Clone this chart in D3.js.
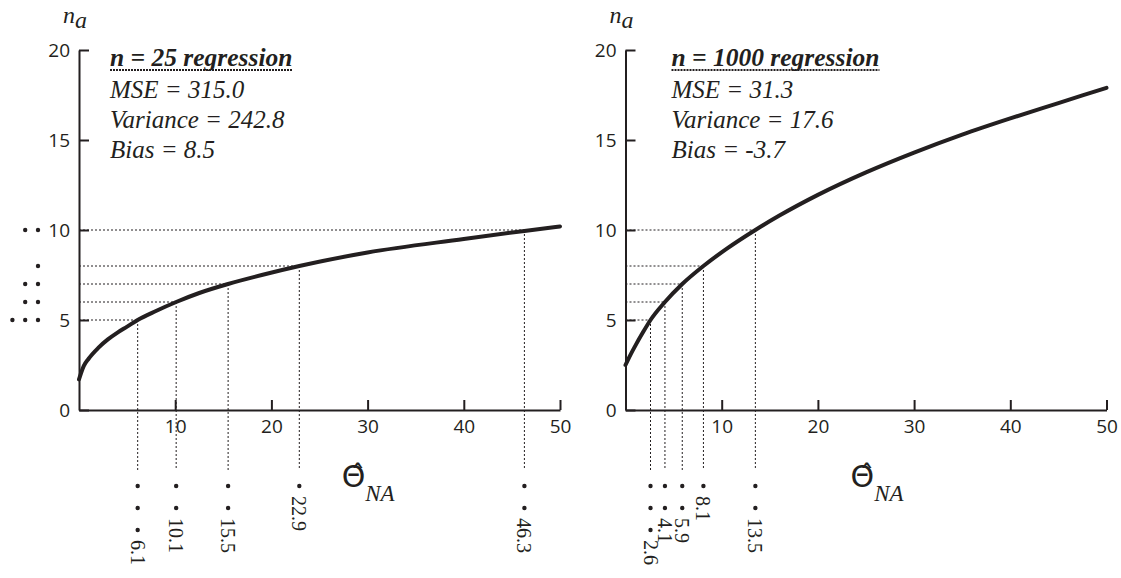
<!DOCTYPE html>
<html>
<head>
<meta charset="utf-8">
<script src="https://cdn.jsdelivr.net/npm/d3@7"></script>
<style>
  body { margin: 0; background: #fff; }
  svg { display: block; }
</style>
</head>
<body>
<div id="chart"></div>
<script>
// ticks shared by both panels
var xTicks = [10, 20, 30, 40, 50];
var yTicks = [0, 5, 10, 15, 20];

// n = 25 regression curve
var curve25 = [[0, 1.7], [0.5, 2.45], [1, 2.85], [2, 3.45], [3, 3.92], [4, 4.3], [5, 4.63],
  [6.1, 5], [8, 5.5], [10.1, 6], [12.5, 6.5], [15.5, 7], [19, 7.5], [22.9, 8],
  [30, 8.75], [40, 9.5], [46.3, 9.95], [50, 10.2]];
var levels25 = [5, 6, 7, 8, 10];
var est25 = [6.1, 10.1, 15.5, 22.9, 46.3];
var counts25 = [3, 2, 2, 1, 2];
var stats25 = ["MSE = 315.0", "Variance = 242.8", "Bias = 8.5"];

// n = 1000 regression curve
var curve1000 = [[0, 2.5], [0.5, 3.05], [1, 3.55], [1.8, 4.3], [2.6, 5], [4.1, 6], [5.9, 7],
  [8.1, 8], [10.5, 8.95], [13.5, 10], [16, 10.8], [20, 11.95], [25, 13.2], [30, 14.3],
  [35, 15.3], [40, 16.2], [45, 17.05], [50, 17.9]];
var levels1000 = [5, 6, 7, 8, 10];
var est1000 = [2.6, 4.1, 5.9, 8.1, 13.5];
var counts1000 = [3, 2, 2, 1, 2];
var stats1000 = ["MSE = 31.3", "Variance = 17.6", "Bias = -3.7"];

var ink = "#231f20";
var serif = "'Liberation Serif'";
// the italic face of Liberation Serif comes out sans-like here, so try Nimbus first
var serifItalic = "'Nimbus Roman', 'Liberation Serif', serif";
var sans = "'Open Sans'";

var svg = d3.select("#chart").append("svg")
  .attr("width", 1121)
  .attr("height", 578);

function drawPanel(p) {
  var x = d3.scaleLinear().domain([0, 50]).range([p.left, p.left + 481]);
  var y = d3.scaleLinear().domain([0, 20]).range([410, 50]);
  var g = svg.append("g");

  // dotted guide lines
  p.levels.forEach(function(lv, i) {
    var ex = p.est[i];
    g.append("line")
      .attr("x1", x(0)).attr("x2", x(ex))
      .attr("y1", y(lv)).attr("y2", y(lv))
      .attr("stroke", ink).attr("stroke-width", 1)
      .attr("stroke-dasharray", "2,2");
    g.append("line")
      .attr("x1", x(ex)).attr("x2", x(ex))
      .attr("y1", y(lv)).attr("y2", 470)
      .attr("stroke", ink).attr("stroke-width", 1)
      .attr("stroke-dasharray", "2,2");

    // dots under the x axis, one per estimate
    var n = p.counts[i];
    for (var k = 0; k < n; k++) {
      g.append("circle")
        .attr("cx", x(ex)).attr("cy", 486 + k * 22)
        .attr("r", 2.2).attr("fill", ink);
    }
    g.append("text")
      .attr("transform", "translate(" + x(ex) + "," + (486 + (n - 1) * 22 + 10) + ") rotate(90)")
      .attr("dominant-baseline", "central")
      .style("font-family", serif)
      .style("font-size", "20px")
      .attr("fill", ink)
      .text(d3.format(".1f")(ex));

    // dots left of the y axis
    if (p.yDots) {
      for (var j = 0; j < n; j++) {
        g.append("circle")
          .attr("cx", 38 - j * 12.8).attr("cy", y(lv))
          .attr("r", 2.2).attr("fill", ink);
      }
    }
  });

  // axes
  var xAxis = d3.axisTop(x).tickValues(xTicks).tickSizeInner(10).tickSizeOuter(0).tickPadding(0);
  var xg = g.append("g").attr("transform", "translate(0,410)").call(xAxis);
  xg.select(".domain").attr("stroke", ink).attr("stroke-width", 2);
  xg.selectAll(".tick line").attr("stroke", ink).attr("stroke-width", 2);
  xg.selectAll(".tick text")
    .attr("y", 23).attr("dy", 0)
    .style("font-family", sans).style("font-size", "19px").attr("fill", ink);

  var yAxis = d3.axisRight(y).tickValues(yTicks).tickSizeInner(10).tickSizeOuter(0);
  var yg = g.append("g").attr("transform", "translate(" + p.left + ",0)").call(yAxis);
  yg.select(".domain").attr("stroke", ink).attr("stroke-width", 2);
  yg.selectAll(".tick line").attr("stroke", ink).attr("stroke-width", 2);
  yg.selectAll(".tick text")
    .attr("x", -9).attr("text-anchor", "end").attr("dy", "0.34em")
    .style("font-family", sans).style("font-size", "19px").attr("fill", ink);

  // regression curve
  var line = d3.line()
    .x(function(d) { return x(d[0]); })
    .y(function(d) { return y(d[1]); })
    .curve(d3.curveMonotoneX);
  g.append("path")
    .datum(p.curve)
    .attr("d", line)
    .attr("fill", "none")
    .attr("stroke", ink)
    .attr("stroke-width", 4)
    .attr("stroke-linecap", "round");

  // y axis title n_a
  var ya = g.append("text")
    .attr("x", p.left - 16).attr("y", 23)
    .style("font-family", serifItalic).style("font-style", "italic")
    .style("font-size", "24px").attr("fill", ink);
  ya.append("tspan").text("n");
  ya.append("tspan").attr("dy", 5).text("a");

  // x axis title theta hat _NA
  var xa = g.append("text")
    .attr("x", x(p.thetaAt)).attr("y", 487)
    .attr("fill", ink);
  xa.append("tspan")
    .style("font-family", "'DejaVu Sans'")
    .style("font-size", "30px")
    .text("\u0398\u0302");
  xa.append("tspan")
    .attr("dy", 14)
    .style("font-family", serifItalic).style("font-style", "italic")
    .style("font-size", "23px")
    .text("NA");

  // stats block
  var tx = p.left + p.textOff;
  var title = g.append("text")
    .attr("x", tx).attr("y", 66)
    .style("font-family", serif).style("font-style", "italic").style("font-weight", "bold")
    .style("font-size", "25.5px").attr("fill", ink)
    .text(p.title);
  var tw = title.node().getComputedTextLength();
  g.append("line")
    .attr("x1", tx).attr("x2", tx + tw)
    .attr("y1", 70).attr("y2", 70)
    .attr("stroke", ink).attr("stroke-width", 2)
    .attr("stroke-dasharray", "2,1");
  p.stats.forEach(function(s, i) {
    g.append("text")
      .attr("x", tx).attr("y", 98 + i * 30)
      .style("font-family", serifItalic).style("font-style", "italic")
      .style("font-size", "25px").attr("fill", ink)
      .text(s);
  });
}

drawPanel({
  left: 79, curve: curve25, levels: levels25, est: est25, counts: counts25,
  stats: stats25, title: "n = 25 regression", yDots: true, thetaAt: 27.3, textOff: 31
});
drawPanel({
  left: 625.5, curve: curve1000, levels: levels1000, est: est1000, counts: counts1000,
  stats: stats1000, title: "n = 1000 regression", yDots: false, thetaAt: 23.4, textOff: 46
});
</script>
</body>
</html>
